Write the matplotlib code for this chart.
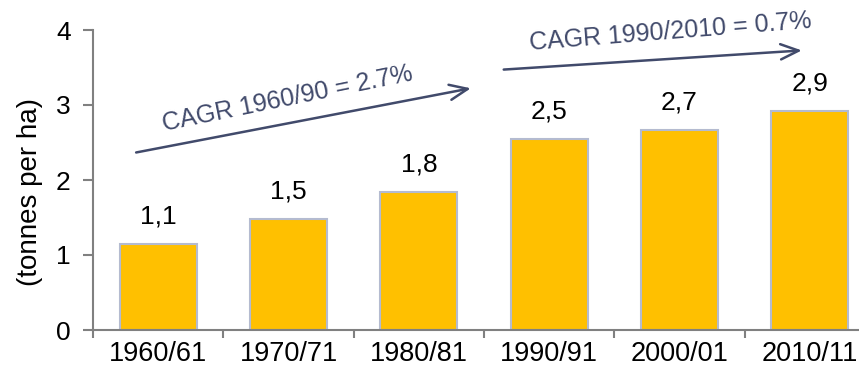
import matplotlib.pyplot as plt

# data
periods = ['1960/61', '1970/71', '1980/81', '1990/91', '2000/01', '2010/11']
yields = [1.15, 1.48, 1.84, 2.55, 2.67, 2.92]
value_labels = ['1,1', '1,5', '1,8', '2,5', '2,7', '2,9']
cagr_texts = ['CAGR 1960/90 = 2.7%', 'CAGR 1990/2010 = 0.7%']

plt.rcParams['font.family'] = ['Liberation Sans', 'DejaVu Sans']

fig = plt.figure(figsize=(8.59, 3.71), dpi=100)
ax = fig.add_axes([93 / 859, 41 / 371, 782 / 859, 300 / 371])

x = list(range(len(periods)))
ax.bar(x, yields, width=0.59, color='#FFC000', edgecolor='#B4BBD0', linewidth=1.5, zorder=2)

for xi, v, lab in zip(x, yields, value_labels):
    ax.annotate(lab, (xi, v), xytext=(0, 11), textcoords='offset points',
                ha='center', va='bottom', fontsize=19, color='black')

ax.set_xlim(-0.5, 5.5)
ax.set_ylim(0, 4)
ax.set_yticks([0, 1, 2, 3, 4])
ax.set_xticks(x)
ax.set_xticklabels(periods)
ax.set_xticks([i - 0.5 for i in range(len(periods) + 1)], minor=True)
ax.tick_params(axis='x', which='major', length=0, pad=8, labelsize=19.5)
ax.tick_params(axis='x', which='minor', length=6, width=1.5, color='#808080', direction='out')
ax.tick_params(axis='y', length=7, width=1.5, color='#808080', pad=9, labelsize=19)

for s in ['top', 'right']:
    ax.spines[s].set_visible(False)
for s in ['left', 'bottom']:
    ax.spines[s].set_color('#808080')
    ax.spines[s].set_linewidth(1.5)

# unit label
fig.text(30 / 859, (371 - 192) / 371, '(tonnes per ha)', rotation=90,
         ha='center', va='center', fontsize=20)

# CAGR arrows
arrow_col = '#414A6B'
head = '->,head_length=1.3,head_width=0.55'
ax.annotate('', xy=(2.42, 3.23), xytext=(-0.19, 2.36),
            arrowprops=dict(arrowstyle=head, color=arrow_col, lw=1.8),
            annotation_clip=False)
ax.annotate('', xy=(4.96, 3.73), xytext=(2.63, 3.47),
            arrowprops=dict(arrowstyle=head, color=arrow_col, lw=1.8),
            annotation_clip=False)
ax.text(0.99, 3.08, cagr_texts[0], rotation=11.5, ha='center', va='center',
        fontsize=18, color=arrow_col, rotation_mode='anchor')
ax.text(3.93, 3.98, cagr_texts[1], rotation=4.5, ha='center', va='center',
        fontsize=18, color=arrow_col, rotation_mode='anchor', clip_on=False)

fig.savefig('out.png', dpi=100)
